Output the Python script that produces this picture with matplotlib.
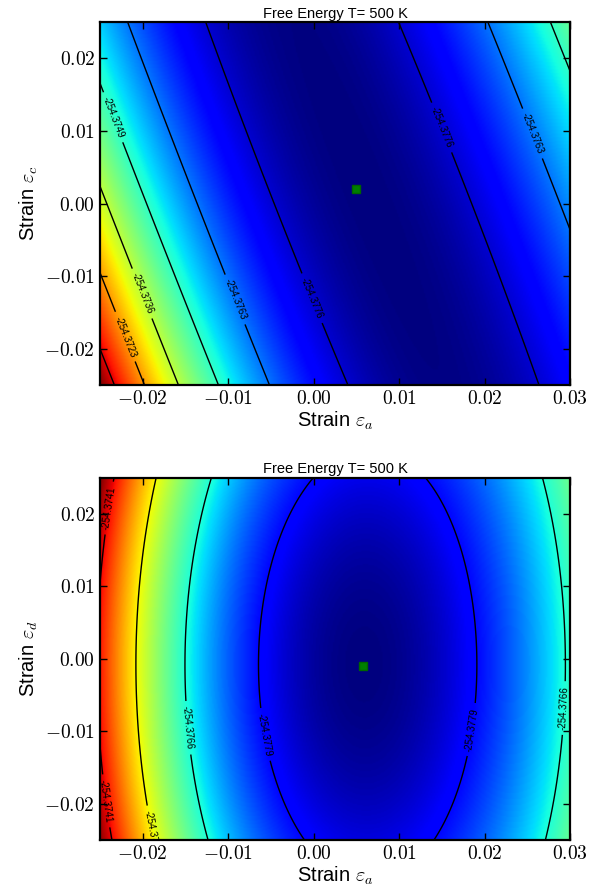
import numpy as np
import matplotlib
matplotlib.use("Agg")
import matplotlib.pyplot as plt
from matplotlib.ticker import FuncFormatter, FixedLocator

plt.rcParams["font.family"] = ["Liberation Sans", "DejaVu Sans"]
plt.rcParams["mathtext.fontset"] = "cm"

# strain window of both maps
eps_a_range = [-0.025, 0.03]
eps_y_range = [-0.025, 0.025]
x_ticks = [-0.02, -0.01, 0.00, 0.01, 0.02, 0.03]
y_ticks = [-0.02, -0.01, 0.00, 0.01, 0.02]

# fitted free-energy surfaces (eV):
#   F0 + A u^2 + D u^3 + (C + G u) v^2
#   u = eps_a - x0 + shear*(eps_y - y0),  v = eps_y - y0
fit_ac = dict(F0=-254.37820, A=4.28, D=-17.7, C=0.05, G=0.0,
              x0=0.006, y0=0.002, shear=0.331)
fit_ad = dict(F0=-254.37852, A=3.88, D=-20.2, C=0.70, G=-6.0,
              x0=0.0059, y0=-0.0008, shear=0.0)

# contour levels
levels_ac = [-254.37763, -254.37629, -254.37494, -254.37360, -254.37226, -254.37091]
levels_ad = [-254.37789, -254.37663, -254.37537, -254.37411]

# located minima
min_ac = (0.005, 0.002)
min_ad = (0.0058, -0.001)

# where the contour labels sit
label_pos_ac = [(-0.0243, 0.0115), (0.0142, 0.0101), (0.0251, 0.0094),
                (-0.0205, -0.0126), (-0.0224, -0.0185), (-0.0100, -0.0136),
                (-0.00136, -0.0136)]
label_pos_ad = [(-0.0239, 0.0208), (-0.0236, -0.0195), (-0.0177, -0.0236),
                (-0.0145, -0.0095), (-0.0060, -0.0105), (0.0187, -0.0098),
                (0.0294, -0.0068)]


def surface(p, X, Y):
    v = Y - p["y0"]
    u = X - p["x0"] + p["shear"] * v
    return (p["F0"] + p["A"] * u**2 + p["D"] * u**3
            + (p["C"] + p["G"] * u) * v**2)


xs = np.linspace(eps_a_range[0], eps_a_range[1], 331)
ys = np.linspace(eps_y_range[0], eps_y_range[1], 301)
X, Y = np.meshgrid(xs, ys)

fig = plt.figure(figsize=(6.02, 8.88), dpi=100)
ax1 = fig.add_axes([0.1661, 0.5664, 0.7807, 0.4088])
ax2 = fig.add_axes([0.1661, 0.0541, 0.7807, 0.4080])

tickfmt = FuncFormatter(lambda v, p: r"$%.2f$" % v)

panels = [
    (ax1, fit_ac, levels_ac, min_ac, label_pos_ac, r"Strain $\varepsilon_c$"),
    (ax2, fit_ad, levels_ad, min_ad, label_pos_ad, r"Strain $\varepsilon_d$"),
]

for ax, fit, levels, mn, lpos, ylab in panels:
    Z = surface(fit, X, Y)
    ax.imshow(Z, origin="lower", cmap="jet", aspect="auto",
              extent=[eps_a_range[0], eps_a_range[1], eps_y_range[0], eps_y_range[1]],
              interpolation="bilinear")
    cs = ax.contour(X, Y, Z, levels=levels, colors="k", linewidths=1.0,
                    linestyles="solid")
    texts = ax.clabel(cs, fmt="%.4f", fontsize=7, inline=True, manual=lpos)
    for t in texts:
        t.set_clip_on(True)
    ax.plot([mn[0]], [mn[1]], "s", color=(0, 0.5, 0), markeredgecolor=(0, 0.4, 0),
            markersize=6)
    ax.set_xlim(eps_a_range)
    ax.set_ylim(eps_y_range)
    ax.xaxis.set_major_locator(FixedLocator(x_ticks))
    ax.yaxis.set_major_locator(FixedLocator(y_ticks))
    ax.xaxis.set_major_formatter(tickfmt)
    ax.yaxis.set_major_formatter(tickfmt)
    ax.tick_params(direction="in", top=True, right=True, length=5, width=1,
                   labelsize=14, pad=3.5)
    for s in ax.spines.values():
        s.set_linewidth(1.6)
    ax.set_title("Free Energy T= 500 K", fontsize=10.5, pad=3)
    ax.set_xlabel(r"Strain $\varepsilon_a$", fontsize=14.5, labelpad=1)
    ax.set_ylabel(ylab, fontsize=14.5, labelpad=3)

fig.savefig("out.png", dpi=100)
